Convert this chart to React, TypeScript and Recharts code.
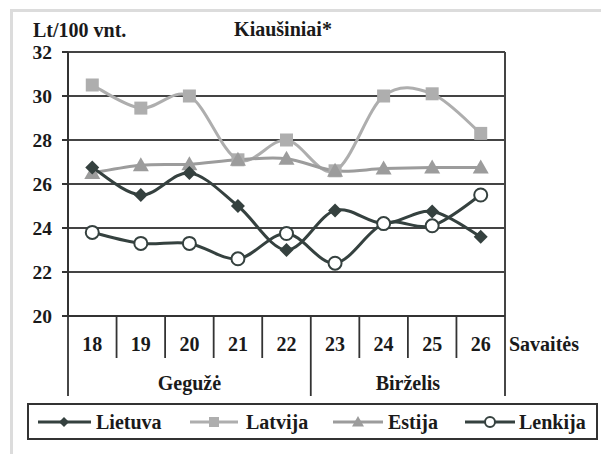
import React from "react";
import { LineChart, Line, XAxis, YAxis, CartesianGrid, Legend } from "recharts";

const weeks = ["18", "19", "20", "21", "22", "23", "24", "25", "26"];
const lietuva = [26.75, 25.5, 26.5, 25.0, 23.0, 24.8, 24.2, 24.75, 23.6];
const latvija = [30.5, 29.45, 30.0, 27.1, 28.0, 26.6, 30.0, 30.1, 28.3];
const estija = [26.5, 26.85, 26.9, 27.1, 27.15, 26.6, 26.7, 26.75, 26.75];
const lenkija = [23.8, 23.3, 23.3, 22.6, 23.75, 22.4, 24.2, 24.1, 25.5];
const months = ["Gegužė", "Birželis"];
const monthWeekCounts = [5, 4];
const yTicks = [20, 22, 24, 26, 28, 30, 32];
const seriesNames = ["Lietuva", "Latvija", "Estija", "Lenkija"];

const data = weeks.map((w, i) => ({
  week: w,
  Lietuva: lietuva[i],
  Latvija: latvija[i],
  Estija: estija[i],
  Lenkija: lenkija[i],
}));

const FONT = "'Liberation Serif', 'Times New Roman', serif";
const DARK = "#35413f";
const LIGHT = "#aeaeae";
const MID = "#9c9c9c";
const GRID = "#444";
const textStyle: any = { fontFamily: FONT, fontWeight: 700, fontSize: 20, fill: "#1a1a1a" };

const smoothCurve: any = (ctx: any) => {
  let pts: number[][] = [];
  return {
    areaStart() {},
    areaEnd() {},
    lineStart() {
      pts = [];
    },
    point(x: number, y: number) {
      pts.push([+x, +y]);
    },
    lineEnd() {
      if (!pts.length) return;
      ctx.moveTo(pts[0][0], pts[0][1]);
      const k = 1 / 6;
      for (let i = 0; i < pts.length - 1; i++) {
        const p0 = pts[i - 1] || pts[i];
        const p1 = pts[i];
        const p2 = pts[i + 1];
        const p3 = pts[i + 2] || pts[i + 1];
        ctx.bezierCurveTo(
          p1[0] + (p2[0] - p0[0]) * k,
          p1[1] + (p2[1] - p0[1]) * k,
          p2[0] - (p3[0] - p1[0]) * k,
          p2[1] - (p3[1] - p1[1]) * k,
          p2[0],
          p2[1]
        );
      }
    },
  };
};

const Diamond = ({ cx, cy, s = 7, fill = DARK }: any) => (
  <polygon points={`${cx},${cy - s} ${cx + s},${cy} ${cx},${cy + s} ${cx - s},${cy}`} fill={fill} />
);
const Square = ({ cx, cy, s = 6.5, fill = LIGHT }: any) => (
  <rect x={cx - s} y={cy - s} width={2 * s} height={2 * s} fill={fill} />
);
const Triangle = ({ cx, cy, s = 8, fill = MID }: any) => (
  <polygon points={`${cx},${cy - s} ${cx + s},${cy + s * 0.75} ${cx - s},${cy + s * 0.75}`} fill={fill} />
);
const Circle = ({ cx, cy, r = 6.5 }: any) => (
  <circle cx={cx} cy={cy} r={r} fill="#fff" stroke={DARK} strokeWidth={2} />
);

const dotFns: Record<string, any> = {
  Lietuva: (p: any) => <Diamond key={`d${p.index}`} cx={p.cx} cy={p.cy} />,
  Latvija: (p: any) => <Square key={`s${p.index}`} cx={p.cx} cy={p.cy} />,
  Estija: (p: any) => <Triangle key={`t${p.index}`} cx={p.cx} cy={p.cy} />,
  Lenkija: (p: any) => <Circle key={`c${p.index}`} cx={p.cx} cy={p.cy} />,
};

const WeekTick = (props: any) => {
  const { x, y, payload, index } = props;
  const half = payload && typeof payload.offset === "number" && payload.offset > 0 ? payload.offset : 24.3;
  const i = index;
  let start = 0;
  const labels: any[] = [];
  let isMonthEnd = false;
  for (let m = 0; m < months.length; m++) {
    const end = start + monthWeekCounts[m] - 1;
    if (i === end) isMonthEnd = true;
    if (i === start) {
      labels.push(
        <text key={`m${m}`} x={x - half + monthWeekCounts[m] * half} y={y + 74} textAnchor="middle" style={textStyle}>
          {months[m]}
        </text>
      );
    }
    start = end + 1;
  }
  const stroke = { stroke: "#333", strokeWidth: 1.8 };
  return (
    <g>
      <text x={x} y={y + 35} textAnchor="middle" style={textStyle}>
        {payload.value}
      </text>
      {i === 0 && <line x1={x - half} y1={y} x2={x - half} y2={y + 80} {...stroke} />}
      <line x1={x + half} y1={y} x2={x + half} y2={isMonthEnd ? y + 80 : y + 42} {...stroke} />
      {labels}
      {i === weeks.length - 1 && (
        <text x={x + half + 4} y={y + 35} textAnchor="start" style={textStyle}>
          Savaitės
        </text>
      )}
    </g>
  );
};

const ValueTick = (props: any) => {
  const { x, y, payload } = props;
  return (
    <text x={x} y={y + 6.5} textAnchor="end" style={{ ...textStyle, fontSize: 19.5 }}>
      {payload.value}
    </text>
  );
};

const legendItems: Record<string, any> = {
  Lietuva: { color: DARK, mark: <Diamond cx={26} cy={10} s={5} />, iconX: 11, iconW: 53, textX: 69 },
  Latvija: { color: LIGHT, mark: <Square cx={24} cy={10} s={5} />, iconX: 163, iconW: 48, textX: 219 },
  Estija: { color: MID, mark: <Triangle cx={25} cy={10} s={6} />, iconX: 306, iconW: 50, textX: 361 },
  Lenkija: { color: DARK, mark: <Circle cx={25} cy={10} r={5} />, iconX: 438, iconW: 50, textX: 492 },
};

const LegendBox = () => (
  <div
    style={{
      position: "relative",
      boxSizing: "border-box",
      width: 571,
      height: 37,
      border: "2px solid #333",
      fontFamily: FONT,
      fontWeight: "bold",
      fontSize: 20,
      color: "#1a1a1a",
      background: "#fff",
    }}
  >
    {seriesNames.map((n) => {
      const it = legendItems[n];
      return (
        <React.Fragment key={n}>
          <svg width={it.iconW} height={20} style={{ position: "absolute", left: it.iconX - 2, top: 6.5 }}>
            <line x1={0} y1={10} x2={it.iconW} y2={10} stroke={it.color} strokeWidth={3} />
            {it.mark}
          </svg>
          <span style={{ position: "absolute", left: it.textX - 2, top: 3.5, lineHeight: "26px" }}>{n}</span>
        </React.Fragment>
      );
    })}
  </div>
);

export default function App() {
  return (
    <div style={{ position: "absolute", left: 0, top: 0, width: 601, height: 454, background: "#fff" }}>
      <div style={{ position: "absolute", left: 10, top: 9, width: 591, height: 3, background: "#dcdcdc" }} />
      <div style={{ position: "absolute", left: 10, top: 9, width: 3, height: 445, background: "#dcdcdc" }} />
      <LineChart
        width={601}
        height={454}
        data={data}
        margin={{ top: 52, right: 96, left: 0, bottom: 13 }}
        style={{ position: "absolute", left: 0, top: 0 }}
      >
        <CartesianGrid
          stroke={GRID}
          strokeWidth={2}
          vertical={true}
          horizontal={true}
          verticalCoordinatesGenerator={({ offset }: any) => [offset.left + offset.width]}
        />
        <XAxis
          dataKey="week"
          scale="band"
          height={87}
          tickLine={false}
          tickSize={0}
          tickMargin={0}
          axisLine={{ stroke: "#333", strokeWidth: 2 }}
          tick={<WeekTick />}
          interval={0}
        />
        <YAxis
          domain={[20, 32]}
          ticks={yTicks}
          width={68}
          tickSize={6}
          tickMargin={10}
          interval={0}
          axisLine={{ stroke: "#333", strokeWidth: 2 }}
          tickLine={{ stroke: "#333", strokeWidth: 2 }}
          tick={<ValueTick />}
        />
        <Legend
          verticalAlign="bottom"
          height={38}
          wrapperStyle={{ left: 27, width: 571 }}
          content={() => <LegendBox />}
        />
        <Line type={smoothCurve} dataKey="Latvija" stroke={LIGHT} strokeWidth={3} dot={dotFns.Latvija} isAnimationActive={false} />
        <Line type={smoothCurve} dataKey="Estija" stroke={MID} strokeWidth={3} dot={dotFns.Estija} isAnimationActive={false} />
        <Line type={smoothCurve} dataKey="Lietuva" stroke={DARK} strokeWidth={3} dot={dotFns.Lietuva} isAnimationActive={false} />
        <Line type={smoothCurve} dataKey="Lenkija" stroke={DARK} strokeWidth={3} dot={dotFns.Lenkija} isAnimationActive={false} />
        <text x={33} y={37} style={textStyle}>
          Lt/100 vnt.
        </text>
        <text x={283} y={36} textAnchor="middle" style={textStyle}>
          Kiaušiniai*
        </text>
      </LineChart>
    </div>
  );
}
